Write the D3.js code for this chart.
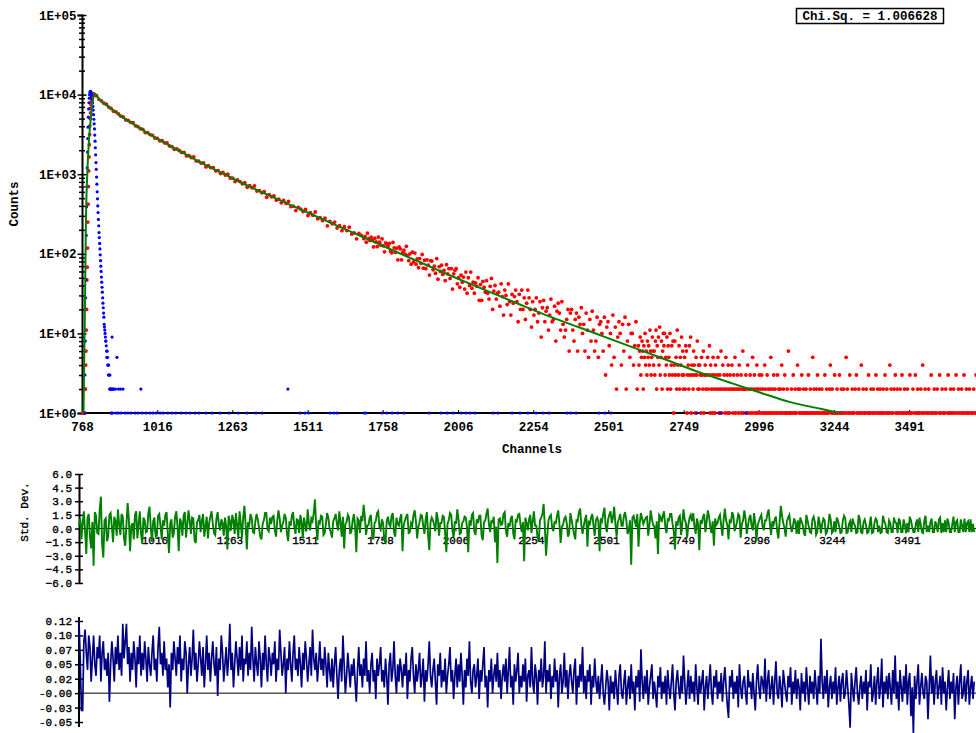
<html>
  <head>
    <meta charset="utf-8"/>
    <style>
      body { margin: 0; background: white; }
      svg { display: block; }
    </style>
    <script src="https://d3js.org/d3.v7.min.js"></script>
  </head>
  <body>
    <script>
    var width = 976, height = 733;
    var mono = "'Liberation Mono', 'Courier New', monospace";

    // ticks and labels
    var xTicks = [768, 1016, 1263, 1511, 1758, 2006, 2254, 2501, 2749, 2996, 3244, 3491];
    var countDecades = [1, 10, 100, 1000, 10000, 100000];
    var stdTicks = [6.0, 4.5, 3.0, 1.5, 0.0, -1.5, -3.0, -4.5, -6.0];
    var acTicks = [0.125, 0.1, 0.075, 0.05, 0.025, 0, -0.025, -0.05];
    var acLabels = ["0.12", "0.10", "0.07", "0.05", "0.02", "-0.00", "-0.03", "-0.05"];
    var chiSq = "Chi.Sq. = 1.006628";

    // fitted decay (green)
    var fitCh = [773, 778, 781, 785, 791, 798, 801, 804, 811, 827,
                 860, 900, 950, 1000, 1075, 1150, 1225, 1300, 1400, 1500,
                 1600, 1700, 1800, 1900, 2000, 2100, 2200, 2300, 2400, 2500,
                 2600, 2700, 2800, 2900, 3000, 3100, 3200, 3300, 3400, 3500,
                 3600, 3712];
    var fitCounts = [1, 26, 266, 922, 2690, 5540, 7400, 9060, 10160, 8550,
                     6850, 5250, 3980, 3020, 2100, 1462, 1054, 759, 508, 344,
                     233, 158, 107, 72.8, 49.7, 34.5, 23.9, 16.7, 12.1, 8.71,
                     6.29, 4.53, 3.25, 2.42, 1.81, 1.37, 1.13, 0.93, 0.76, 0.62,
                     0.51, 0.40];

    // measured decay (red)
    var riseStart = 770;
    var riseCounts = [0,1,0,1,0,1,0,1,2,2, 4,6,11,20,47,68,118,250,420,700,
                      1100,1650,2350,3150,4050,5000,5900,6750,7500,8150,
                      8700,9150,9500,9780,9950,10080,10150,10120,10060,9960, 9850,9760];
    var decayStart = 816, decayStep = 8;
    var decayCounts = [
      9670,8720,8350,7810,7570,6980,6690,6200,6050,5710,
      5360,5230,4810,4740,4490,4440,4060,3950,3730,3660,
      3330,3330,3150,3080,2850,2820,2630,2630,2470,2470,
      2265,2220,2055,2085,1986,1876,1882,1698,1715,1622,
      1649,1470,1458,1378,1389,1234,1278,1210,1212,1101,
      1109,1018,1050,977,1002,896,891,809,848,808,
      759,782,685,717,676,713,615,622,584,603,
      513,555,521,535,472,487,437,468,429,455,
      392,397,349,384,365,339,361,303,329,306,
      335,275,284,262,280,224,256,238,250,211,
      225,195,219,196,216,177,183,154,180,170,
      155];
    var midStart = 1700, midStep = 4;
    var midCounts = [
      166,140,182,155,147, 162,148,122,157,141, 123,162,140,128,154, 126,106,137,132,123,
      135,108,103,139,119, 104,117,84,122,115, 84,104,111,99,124, 95,82,100,74,105,
      79,102,74,86,67, 87,76,98,66,83, 65,84,72,54,82, 81,63,70,57,87,
      48,69,60,72,55, 62,46,73,56,65, 49,65,36,56,62, 65,42,50,38,54,
      44,51,36,59,32, 50,40,59,37,44, 32,43,39,50,26, 41,26,45,38,33,
      46,32,27,39,49, 20,34,40,27,32, 33,22,42,29,17, 35,30,23,42,25,
      17,31,24,29,35, 25,14,31,20,35, 20,28,15,24,35, 28,20,12,25,17,
      20,28,14,18,25, 9,21,26,14,19, 21,11,17,27,14, 15,22,8,19,24,
      18,11,25,13,9, 11,15,20,6,18, 20,11,8,15,18, 6,16,13,21,10,
      13,6,18,11,5, 15,8,19,11,6, 8,16,5,13,14, 10,6,16,3,12,
      14,7,10,4,17, 5,12,2,9,14, 10,4,13,6,16, 2,8,13,5,10,
      10,4,7,14,2];
    var tailStart = 2600, tailStep = 2;
    var tailCounts = [
      7,4,6,9,3,5,8,6,2,7,5,10,4,6,3,8,5,7,4,11,6,3,5,9,6,
      4,6,3,8,11,2,7,5,9,4,12,3,5,8,2,6,10,7,10,3,5,4,9,2,7,
      5,3,10,2,4,7,3,8,1,4,8,3,5,2,11,4,3,7,2,5,4,9,3,6,2,
      3,5,2,7,6,1,3,4,2,7,3,9,1,4,3,2,6,4,3,1,5,3,8,2,4,
      2,4,3,1,5,3,2,6,1,3,4,2,3,0,5,2,3,7,1,4,2,3,1,5,2,
      3,1,4,2,0,3,5,2,1,3,2,6,1,2,4,0,3,2,1,5,2,3,1,4,2,
      1,3,2,0,4,2,1,3,2,5,1,2,0,3,2,1,4,2,0,3,1,2,6,1,2,
      2,0,3,1,2,4,1,0,2,3,1,2,0,5,1,2,3,0,1,2,4,1,2,0,3,
      1,2,0,3,1,2,0,1,4,2,1,0,3,1,2,0,1,2,5,1,0,2,1,3,0,
      2,1,0,1,3,0,2,1,0,2,1,4,0,1,2,0,3,1,1,0,2,1,6,0,1,
      1,0,2,1,0,3,1,0,2,1,1,0,4,2,0,1,2,0,1,3,0,1,2,0,1,
      0,2,1,0,1,3,0,1,2,0,1,0,5,1,2,0,1,0,2,1,3,0,1,2,0,
      1,0,2,0,1,1,0,3,1,0,2,1,0,1,0,2,4,0,1,2,0,1,0,3,1,
      0,1,2,0,1,0,3,1,0,2,1,0,1,2,0,0,1,5,0,2,1,0,1,3,0,
      1,0,2,1,0,1,0,2,0,3,1,0,1,2,0,1,0,4,1,0,2,0,1,1,0,
      2,0,1,0,3,1,0,1,2,0,0,1,2,0,1,0,3,0,1,2,0,1,0,2,1,
      0,1,0,2,1,0,3,0,1,2,0,1,0,1,4,0,2,1,0,1,0,2,0,3,1,
      0,2,1,0,1,0,2,0,1,3,0,1,0,2,1,0,0,1,2,0,1,0,3,1,0,
      1,0,2,0,0,1,3,0,1,0,2,1,0,1,0,2,0,1,4,0,1,0,2,0,1,
      0,1,0,2,1,0,0,3,1,0,1,0,2,0,1,1,0,2,0,0,1,3,0,1,0,
      2,0,1,0,1,0,2,0,0,1,3,0,1,0,2,1,0,0,1,2,0,1,0,3,0,
      1,0,2,0,1,0,0,2,1,0,1,3,0,0,1,2,0,1,0,1,2,0,0,1,0,
      1,0,2,0,1,0,3];

    // instrument response (blue)
    var irfStart = 776;
    var irfCounts = [
      0,1,3,8,28,47,170,390,700,1200,
      1900,2800,3900,5200,6600,7900,9000,9900,10500,10900,
      11000,10800,10500,10100,9700,9200,8600,7900,7100,6400,
      5600,4900,4300,3700,3100,2600,2150,1750,1400,1150,
      920,750,600,490,400,330,270,225,185,160,
      135,115,97,82,70,60,51,44,38,33,
      28,24,21,18,16,13,12,11,10,9,
      8,8,7,6,5,6,5,4,4,3,
      4,3,3,2,3,2,2,1,2,2,
      1,9,2,1,2];
    var irfLateCh = [873, 878, 883, 888, 895, 903, 962, 1446];
    var irfLateCounts = [2, 2, 5, 2, 2, 2, 2, 2];
    var irfOnesCh = [880, 887, 896, 910, 919, 929, 943, 952, 966, 979, 992, 1002, 1012, 1025,
      1035, 1051, 1064, 1077, 1094, 1110, 1124, 1140, 1153, 1176, 1196, 1222, 1252, 1282,
      1311, 1341, 1361, 1486, 1502, 1515, 1585, 1598, 1608, 1697, 1703, 1756, 1772, 1789,
      1808, 1828, 1911, 1950, 1970, 1990, 2016, 2032, 2046, 2062, 2121, 2138, 2184, 2210,
      2236, 2263, 2286, 2306, 2365, 2378, 2395, 2470, 2490, 2510, 2793, 2869, 2954];

    // weighted residuals and their autocorrelation, one value per resStep channels
    var resStart = 768, resStep = 4;
    var stdDev = [
      0.4,1.1,-1.2,0.6,1.9,-0.3,-2.8,1.2,1.6,-0.9,-2.2,0.7,-4.1,1.8,1.4,-0.5,-0.6,2.0,3.5,-1.7,
      -3.2,0.9,1.1,-1.4,-0.9,1.5,1.7,0.2,-1.5,1.3,0.8,-0.8,2.1,0.5,-0.7,1.6,1.3,-1.1,-1.9,0.4,
      2.8,1.0,-2.5,0.3,0.6,-1.2,1.5,1.9,-1.1,0.5,1.9,-0.6,-1.7,1.2,0.9,-0.4,-0.3,1.7,2.4,0.1,
      -1.4,0.8,1.2,-0.9,-0.8,1.4,1.6,0.3,-1.2,0.9,0.3,1.5,1.8,-0.6,-2.7,0.6,1.0,-1.0,-0.5,1.3,
      1.9,0.2,-2.5,1.1,0.7,-0.8,1.4,1.8,-1.0,0.4,2.0,0.9,-0.6,1.2,1.1,-1.3,-1.6,0.7,
      0.9,1.5,-0.4,0.8,1.6,-0.9,0.2,1.3,-1.1,0.6,1.3,1.9,0.5,-0.5,-0.7,1.1,1.8,0.4,-0.2,1.0,
      0.6,-0.8,1.2,0.3,-2.3,1.4,0.8,-0.2,1.5,0.9,-0.6,1.7,0.3,-1.0,1.9,0.6,-1.0,1.2,2.5,0.4,
      -2.3,0.7,0.4,1.6,1.1,-0.4,-0.5,0.8,1.6,1.0,0.1,-0.9,-1.2,0.5,0.9,1.7,1.7,-0.1,-0.3,1.2,
      0.5,1.3,1.4,-0.2,-0.9,0.9,2.0,1.1,-0.4,0.3,0.7,1.6,1.2,-0.6,-1.4,0.8,0.3,1.4,1.8,0.2,
      -0.6,1.0,0.9,-0.5,1.5,0.7,-1.1,1.2,0.4,-0.3,2.1,0.6,-0.2,1.1,0.8,1.7,3.2,0.3,-1.3,0.9,
      0.6,1.4,1.3,-0.7,-0.5,0.5,1.7,1.2,0.0,-0.4,-1.0,0.8,1.1,1.6,0.5,-0.2,1.9,0.7,-0.9,1.3,
      -2.2,0.5,0.7,1.5,1.2,-0.6,-0.3,0.9,1.6,0.2,-2.6,1.1,0.9,-0.5,1.4,0.8,2.6,1.3,-0.7,0.3,
      0.4,1.2,1.5,-0.8,-1.2,0.6,0.8,1.7,1.9,0.1,-0.1,1.0,0.6,-1.3,-1.5,0.8,1.3,0.5,0.2,1.4,
      1.7,-0.4,-0.9,1.2,0.5,0.3,1.1,1.6,-2.5,0.4,0.9,1.3,1.6,-0.5,-0.4,0.6,0.3,1.5,2.0,0.8,
      -1.1,0.2,0.7,1.5,1.4,0.3,-0.6,1.0,1.8,-0.7,-2.4,0.7,1.2,0.9,0.4,-0.3,1.8,1.1,-0.8,0.6,
      0.6,1.4,1.3,-0.4,-2.6,0.5,0.9,1.7,1.5,-0.2,-1.0,0.8,0.5,2.1,1.0,-0.6,-0.5,0.6,0.8,1.3,
      1.2,0.1,-2.6,0.9,0.3,1.5,1.7,-0.3,-0.7,1.0,0.6,1.4,1.4,-0.8,-1.3,0.7,0.9,1.6,2.2,0.5,
      -0.4,0.8,0.7,1.3,-1.5,0.2,-3.8,1.0,1.1,0.4,0.5,1.6,1.8,-0.3,-0.9,0.6,0.2,1.1,1.4,-0.5,
      -1.2,0.9,0.8,1.5,1.6,0.4,-0.4,0.7,-3.6,1.2,0.6,-0.2,1.0,1.5,-0.5,0.8,1.9,0.3,0.3,-1.0,
      -1.4,0.9,1.2,1.6,2.7,0.2,-3.0,-0.8,0.9,1.3,1.5,0.1,-0.3,0.7,0.6,1.4,2.0,0.5,-1.6,0.2,
      0.4,1.1,1.3,0.6,-0.9,-0.5,1.7,1.0,0.1,-0.6,-1.2,0.9,0.8,1.8,2.2,0.4,-0.6,0.3,1.0,1.5,
      -2.0,0.7,0.5,1.2,1.6,0.3,-0.8,0.9,1.2,
      0.8,-2.5,1.1,0.8,1.6,2.3,0.2,-0.4,1.0,1.5,1.9,0.6,1.2,2.4,0.5,-0.9,0.7,1.1,1.6,0.3,
      0.3,1.4,1.8,0.9,-0.6,-0.2,0.9,-4.0,1.2,1.4,0.8,0.2,1.6,-2.0,0.6,1.7,1.1,0.5,0.9,1.2,
      1.3,-0.8,0.4,2.0,1.1,0.4,0.2,-1.1,0.8,-2.8,1.5,1.3,0.7,1.4,1.9,0.2,-0.5,1.0,0.9,1.6,
      1.6,0.5,-0.3,-2.3,0.8,0.3,1.2,1.4,-0.7,0.6,2.1,1.0,0.6,-1.0,0.4,1.2,1.5,0.8,1.7,0.2,
      -0.6,1.1,0.5,-2.4,0.9,0.5,1.3,1.6,-0.4,0.7,2.0,1.3,0.2,-0.5,0.8,-1.9,1.1,0.4,0.6,1.2,
      1.5,0.3,-0.8,1.0,2.2,0.9,0.4,-1.2,1.0,0.6,1.8,1.4,-0.3,0.2,0.7,1.6,1.4,-1.0,0.5,0.9,
      2.0,1.1,-0.6,0.3,1.1,1.5,0.3,-0.2,1.7,0.6,-1.3,0.4,0.8,1.2,1.5,0.2,-0.2,0.9,0.9,1.6,
      2.1,0.5,-0.7,0.8,0.4,1.0,1.3,-0.3,-1.1,0.7,2.5,1.4,0.6,0.1,-0.9,0.8,1.2,1.5,0.3,-0.4,
      0.3,1.1,0.7,-0.6,0.9,
      -0.6,1.2,0.8,0.4,-0.5,-0.8,1.5,0.9,0.2,-0.4,-0.5,1.0,1.3,0.7,-0.7,-0.4,1.3,0.6,-0.5,0.5,
      1.1,0.9,-0.6,-0.4,0.3,1.6,1.0,-0.5,-0.3,0.8,-0.4,1.2,0.9,0.2,-0.5,-0.4,0.9,1.4,1.1,-0.5,
      -0.4,0.5,0.8,-0.4,1.1,0.6,0.3,-0.5,-0.4,1.5,1.0,-0.4,-0.5,0.7,1.0,0.4,-0.5,-0.4,0.4,1.3,
      -0.5,-0.4,0.6,1.1,0.9,-0.4,0.3,-0.5,-0.4,1.4,0.8,0.5,-0.4,-0.5,0.9,0.6,-0.4,-0.4,1.2,0.7,
      0.6,-0.5,1.1,0.8,-0.4,-0.4,1.0,0.4,-0.5,0.6,-0.4,1.3,0.9,0.2,-0.4,-0.4,0.5,1.0,-0.4,1.2,
      0.5,-0.4,-0.5,0.9,1.4,-0.4,0.3,-0.4,0.7,1.1,-0.4,-0.4,0.8,0.4,-0.4,1.0,1.2,-0.5,0.6,-0.4,
      0.9,-0.4,1.1,0.6,-0.4,-0.4,0.5,1.3,-0.4,0.7,0.9,-0.4,-0.4,1.0,0.3,-0.4,1.1,-0.4,0.6,0.8,
      -0.4,1.0,-0.4,0.5,-0.4];
    var autoCorr = [
      0.125,0.06,-0.03,-0.03,0.09,0.11,0.07,0.04,0.10,0.08,0.02,0.06,0.10,0.05,0.03,0.08,0.06,0.10,0.02,0.07,
      0.09,0.04,0.06,0.03,0.07,-0.015,0.05,0.09,0.06,0.02,0.08,0.05,0.10,0.04,0.07,0.03,0.12,0.06,0.09,0.12,
      0.05,0.08,0.02,0.07,0.04,0.09,0.06,0.01,0.08,0.05,0.10,0.03,0.07,0.04,0.09,0.06,0.02,0.08,0.05,0.03,
      0.07,0.10,0.04,0.06,0.02,0.08,0.115,0.05,0.07,0.03,0.09,0.04,0.06,0.01,0.05,-0.025,0.07,0.04,0.09,0.06,
      0.03,0.08,0.05,0.10,0.02,0.06,0.04,0.09,0.07,0.00,0.05,0.08,0.03,0.06,0.11,0.04,0.07,0.02,0.05,0.09,
      0.06,0.03,0.08,0.01,0.05,0.10,0.04,0.07,0.02,0.06,0.09,0.05,0.03,0.08,-0.005,0.06,0.04,0.10,0.07,0.02,
      0.05,0.08,0.03,0.06,0.12,0.04,0.07,0.01,0.05,0.09,0.06,0.03,0.08,0.04,0.10,0.02,0.06,0.05,0.09,0.03,
      0.07,0.04,0.115,0.06,0.02,0.08,0.05,0.03,0.09,0.06,0.01,0.07,0.04,0.10,0.05,0.02,0.08,0.06,0.03,0.07,
      0.05,0.09,0.02,0.06,0.04,0.11,0.07,0.03,0.05,0.08,0.00,0.06,0.04,0.09,0.05,0.02,0.07,0.10,0.04,0.06,
      0.03,0.08,0.05,0.01,0.07,0.04,0.09,0.06,0.02,0.05,0.08,0.03,0.11,0.06,0.04,0.07,0.02,0.05,0.09,0.04,
      0.06,0.03,0.08,0.05,0.01,0.07,
      0.04,0.02,0.06,0.01,0.05,0.08,0.03,-0.01,0.04,0.06,0.02,0.10,0.05,0.00,0.03,0.07,0.04,0.01,0.05,0.03,
      0.06,0.02,-0.015,0.04,0.08,0.03,0.05,0.01,0.06,0.03,0.09,0.02,0.04,0.00,0.05,0.07,0.02,0.04,-0.01,0.06,
      0.03,0.05,0.08,0.02,0.04,0.01,0.06,0.03,-0.02,0.05,0.07,0.02,0.04,0.09,0.03,0.00,0.05,0.02,0.06,0.04,
      0.01,0.05,0.03,0.07,-0.01,0.04,0.02,0.06,0.08,0.03,0.00,0.05,0.02,0.04,0.07,0.01,0.03,0.06,-0.015,0.04,
      0.02,0.05,0.09,0.03,0.01,0.04,0.06,0.02,-0.02,0.05,0.03,0.07,0.01,0.04,0.02,0.06,0.00,0.03,0.05,0.08,
      0.02,0.04,-0.01,0.03,0.06,0.01,0.05,0.02,0.07,0.03,-0.02,0.04,0.01,0.06,0.03,0.09,0.02,0.00,0.04,0.05,
      0.01,0.03,0.06,-0.01,0.04,0.02,0.05,0.08,0.01,0.03,-0.025,0.04,0.02,0.06,0.00,0.03,0.05,0.02,0.07,0.01,
      0.04,-0.01,0.03,0.05,0.02,0.06,0.00,0.04,0.08,0.01,0.03,-0.02,0.05,0.02,0.04,0.07,0.00,0.03,0.01,0.05,
      0.02,0.06,-0.015,0.03,0.04,0.01,0.08,0.02,0.00,0.05,0.03,-0.02,0.04,0.02,0.06,0.01,0.03,0.09,0.00,0.04,
      0.02,0.05,-0.01,0.03,0.01,0.06,0.02,0.04,-0.025,0.03,0.05,0.00,0.02,0.07,0.01,0.04,-0.01,0.03,0.05,0.02,
      0.00,0.04,0.06,-0.02,0.03,0.01,0.05,0.02,0.08,0.00,0.03,-0.01,0.04,0.02,0.05,-0.02,0.03,0.01,0.06,0.02,
      0.00,
      0.03,-0.01,0.02,0.05,0.00,-0.02,0.01,0.04,0.02,-0.03,0.03,0.00,0.02,-0.01,0.04,0.01,-0.02,0.03,0.05,0.00,
      -0.01,0.02,0.04,-0.02,0.01,0.03,-0.01,0.05,0.00,0.02,-0.03,0.03,0.01,0.04,-0.015,0.076,0.02,-0.01,0.03,0.00,
      0.04,-0.02,0.01,0.03,0.05,-0.01,0.02,0.00,-0.025,0.03,0.01,0.045,-0.01,0.02,0.00,0.03,-0.02,0.04,0.01,-0.01,
      0.02,0.05,0.00,-0.03,0.02,0.04,0.01,-0.01,0.03,0.00,0.065,0.02,-0.02,0.01,0.04,-0.01,0.03,0.00,0.02,-0.015,
      0.05,0.01,-0.02,0.03,0.00,0.02,0.04,-0.03,0.01,0.03,-0.01,0.02,0.05,0.00,-0.02,0.03,0.01,0.04,-0.01,0.02,
      0.00,0.035,-0.015,0.02,0.045,0.01,-0.02,-0.043,0.03,0.01,0.04,-0.01,0.02,0.00,0.03,-0.025,0.05,0.01,-0.01,0.02,
      0.03,0.00,-0.02,0.04,0.01,0.02,-0.01,0.035,0.00,-0.03,0.02,0.05,0.01,-0.01,0.03,0.02,0.00,0.06,-0.015,0.02,
      0.04,-0.01,0.01,0.03,-0.02,0.02,0.055,0.00,-0.01,0.03,0.01,-0.025,0.04,0.02,0.00,-0.015,0.03,0.01,0.045,-0.02,
      0.02,0.00,0.04,-0.01,0.025,0.01,-0.03,0.035,0.00,0.02,-0.015,0.045,0.01,-0.02,0.03,0.00,0.02,-0.01,0.04,0.01,
      -0.02,0.03,0.00,0.094,0.02,-0.01,0.03,0.00,0.04,-0.025,0.01,0.03,-0.01,0.02,0.00,0.045,-0.02,0.01,0.03,-0.015,
      0.02,0.035,-0.01,0.00,0.04,0.01,-0.02,-0.06,0.035,0.01,-0.015,0.02,0.045,0.00,-0.02,0.01,0.03,-0.01,0.02,0.00,
      0.04,-0.03,0.02,0.01,0.05,-0.015,0.00,0.03,-0.02,0.02,0.045,-0.01,0.01,0.06,-0.025,0.02,0.00,0.03,-0.01,0.035,
      0.01,-0.02,0.04,0.00,0.065,-0.01,0.02,-0.03,0.04,0.01,-0.015,0.03,0.00,0.05,-0.02,0.02,0.035,-0.04,0.01,-0.07,
      0.03,-0.01,0.02,0.05,-0.02,0.01,0.035,0.00,-0.01,0.03,0.02,-0.045,0.01,0.065,0.00,0.03,-0.02,0.02,0.04,-0.01,
      0.01,0.03,-0.02,0.045,0.00,0.02,-0.03,0.01,0.04,-0.01,0.02,0.00,0.035,-0.045,0.01,0.03,-0.02,0.02,0.05,-0.01,
      0.00,0.03,-0.015,0.02,0.04,-0.02,0.01,0.03,-0.01,0.02];

    var svg = d3.select("body").append("svg")
      .attr("width", width).attr("height", height);

    function styleAxis(g, size, weight) {
      g.attr("font-family", mono).attr("font-size", size).attr("font-weight", weight);
      g.selectAll("text").attr("fill", "#000");
      g.selectAll("line").attr("stroke", "#000");
    }
    // regular mono text, slightly darkened like the original renderer
    function darken(sel) {
      sel.attr("stroke", "#000").attr("stroke-width", 0.35);
    }

    // ---------- main decay panel ----------
    var xMain = d3.scaleLinear().domain([768, 3491]).range([82, 909]);
    var yMain = d3.scaleLog().domain([1, 1e5]).range([413, 15]);
    var allCountTicks = yMain.ticks();
    var isDecade = function(d) { return countDecades.indexOf(d) >= 0; };

    svg.append("defs").append("clipPath").attr("id", "plotClip")
      .append("rect").attr("x", 82).attr("y", 0).attr("width", width - 82).attr("height", 413);

    var yAxL = svg.append("g").attr("transform", "translate(82,0)")
      .call(d3.axisLeft(yMain).tickValues(allCountTicks).tickSizeOuter(0).tickSize(4.5).tickPadding(1)
        .tickFormat(function(d) { return isDecade(d) ? "1E+" + ("0" + Math.round(Math.log10(d))).slice(-2) : ""; }));
    styleAxis(yAxL, 12.5, "bold");
    yAxL.selectAll(".tick line").attr("x2", function(d) { return isDecade(d) ? -4.5 : -3; }).attr("stroke-width", 1.5);
    yAxL.select(".domain").attr("stroke", "#000").attr("stroke-width", 2);
    var yAxR = svg.append("g").attr("transform", "translate(82,0)")
      .call(d3.axisRight(yMain).tickValues(allCountTicks).tickSize(4.5).tickFormat(""));
    yAxR.select(".domain").remove();
    yAxR.selectAll(".tick line").attr("stroke", "#000").attr("stroke-width", 1.5)
      .attr("x2", function(d) { return isDecade(d) ? 4.5 : 3; });

    var xAx = svg.append("g").attr("transform", "translate(0,413)")
      .call(d3.axisBottom(xMain).tickValues(xTicks).tickSizeInner(-3).tickSizeOuter(0).tickPadding(9)
        .tickFormat(d3.format("d")));
    styleAxis(xAx, 12.5, "bold");
    xAx.select(".domain").remove();
    svg.append("line").attr("x1", 82).attr("x2", width).attr("y1", 413).attr("y2", 413)
      .attr("stroke", "#000").attr("stroke-width", 2);

    svg.append("text").attr("x", 532).attr("y", 453).attr("text-anchor", "middle")
      .attr("font-family", mono).attr("font-size", 12.5).attr("font-weight", "bold").text("Channels");
    svg.append("text").attr("transform", "translate(18,204) rotate(-90)").attr("text-anchor", "middle")
      .attr("font-family", mono).attr("font-size", 12.5).attr("font-weight", "bold").text("Counts");

    // data points
    var red = [];
    riseCounts.forEach(function(c, i) { red.push([riseStart + i, c]); });
    decayCounts.forEach(function(c, i) { red.push([decayStart + i * decayStep, c]); });
    midCounts.forEach(function(c, i) { red.push([midStart + i * midStep, c]); });
    tailCounts.forEach(function(c, i) { red.push([tailStart + i * tailStep, c]); });
    red = red.filter(function(d) { return d[1] > 0; });

    var blue = [];
    irfCounts.forEach(function(c, i) { blue.push([irfStart + i, c]); });
    irfLateCh.forEach(function(ch, i) { blue.push([ch, irfLateCounts[i]]); });
    irfOnesCh.forEach(function(ch) { blue.push([ch, 1]); });
    blue = blue.filter(function(d) { return d[1] > 0; });

    svg.append("g").selectAll("circle").data(red).join("circle")
      .attr("cx", function(d) { return xMain(d[0]); })
      .attr("cy", function(d) { return yMain(d[1]); })
      .attr("r", 1.9).attr("fill", "#ff0000");
    svg.append("g").selectAll("circle").data(blue).join("circle")
      .attr("cx", function(d) { return xMain(d[0]); })
      .attr("cy", function(d) { return yMain(d[1]); })
      .attr("r", 1.6).attr("fill", "#0000ff");

    var fitLine = d3.line()
      .x(function(d, i) { return xMain(fitCh[i]); })
      .y(function(d) { return yMain(d); })
      .curve(d3.curveMonotoneX);
    svg.append("path").datum(fitCounts).attr("d", fitLine)
      .attr("clip-path", "url(#plotClip)")
      .attr("fill", "none").attr("stroke", "#008000").attr("stroke-width", 2);

    // chi square box
    svg.append("rect").attr("x", 796.5).attr("y", 8.5).attr("width", 147).attr("height", 15)
      .attr("fill", "white").attr("stroke", "#000").attr("stroke-width", 1.5);
    svg.append("text").attr("x", 870).attr("y", 20).attr("text-anchor", "middle")
      .attr("font-family", mono).attr("font-size", 12.5).attr("font-weight", "bold").text(chiSq);

    // ---------- residual panel ----------
    var xRes = d3.scaleLinear().domain([768, 3491]).range([79, 907]);
    var yRes = d3.scaleLinear().domain([-6, 6]).range([583, 474]);

    svg.append("line").attr("x1", 79).attr("x2", width).attr("y1", yRes(0)).attr("y2", yRes(0))
      .attr("stroke", "#000").attr("stroke-width", 1);
    var rxAx = svg.append("g").attr("transform", "translate(0," + yRes(0) + ")")
      .call(d3.axisBottom(xRes).tickValues(xTicks.slice(1)).tickSizeInner(3).tickSizeOuter(0).tickPadding(4.5)
        .tickFormat(d3.format("d")));
    styleAxis(rxAx, 11, "normal");
    darken(rxAx.selectAll("text"));
    rxAx.select(".domain").remove();

    var ryAx = svg.append("g").attr("transform", "translate(79,0)")
      .call(d3.axisLeft(yRes).tickValues(stdTicks).tickSize(4).tickSizeOuter(0).tickPadding(3)
        .tickFormat(d3.format(".1f")));
    styleAxis(ryAx, 11, "normal");
    darken(ryAx.selectAll("text"));
    ryAx.select(".domain").attr("stroke", "#000").attr("stroke-width", 2);
    ryAx.selectAll(".tick line").attr("stroke-width", 1.5);
    var ryAxR = svg.append("g").attr("transform", "translate(79,0)")
      .call(d3.axisRight(yRes).tickValues(stdTicks).tickSize(4).tickFormat(""));
    ryAxR.select(".domain").remove();
    ryAxR.selectAll(".tick line").attr("stroke", "#000").attr("stroke-width", 1.5);

    darken(svg.append("text").attr("transform", "translate(28,512) rotate(-90)").attr("text-anchor", "middle")
      .attr("font-family", mono).attr("font-size", 11).text("Std. Dev."));

    var resLine = d3.line()
      .x(function(d, i) { return xRes(resStart + i * resStep); })
      .y(function(d) { return yRes(d); });
    svg.append("path").datum(stdDev).attr("d", resLine)
      .attr("fill", "none").attr("stroke", "#008000").attr("stroke-width", 1.9);

    // ---------- autocorrelation panel ----------
    var yAc = d3.scaleLinear().domain([-0.05, 0.125]).range([722, 621]);

    svg.append("line").attr("x1", 79).attr("x2", width).attr("y1", yAc(0)).attr("y2", yAc(0))
      .attr("stroke", "#000").attr("stroke-width", 1);
    var ayAx = svg.append("g").attr("transform", "translate(79,0)")
      .call(d3.axisLeft(yAc).tickValues(acTicks).tickSize(4).tickSizeOuter(0).tickPadding(3)
        .tickFormat(function(d, i) { return acLabels[i]; }));
    styleAxis(ayAx, 11, "normal");
    darken(ayAx.selectAll("text"));
    ayAx.select(".domain").remove();
    ayAx.selectAll(".tick line").attr("stroke-width", 1.5);
    var ayAxR = svg.append("g").attr("transform", "translate(79,0)")
      .call(d3.axisRight(yAc).tickValues(acTicks).tickSize(4).tickFormat(""));
    ayAxR.select(".domain").remove();
    ayAxR.selectAll(".tick line").attr("stroke", "#000").attr("stroke-width", 1.5);
    svg.append("line").attr("x1", 79).attr("x2", 79).attr("y1", 617).attr("y2", 727)
      .attr("stroke", "#000").attr("stroke-width", 2);

    svg.select("defs").append("clipPath").attr("id", "acLabelClip")
      .append("rect").attr("x", 0).attr("y", 606).attr("width", 40).attr("height", 127);
    darken(svg.append("text").attr("clip-path", "url(#acLabelClip)")
      .attr("transform", "translate(23,702) rotate(-90)").attr("text-anchor", "start")
      .attr("font-family", mono).attr("font-size", 11).text("Autocorrelation"));

    var acLine = d3.line()
      .x(function(d, i) { return xRes(resStart + i * resStep); })
      .y(function(d) { return yAc(d); });
    svg.append("path").datum(autoCorr).attr("d", acLine)
      .attr("fill", "none").attr("stroke", "#000080").attr("stroke-width", 1.7);
    </script>
  </body>
</html>
